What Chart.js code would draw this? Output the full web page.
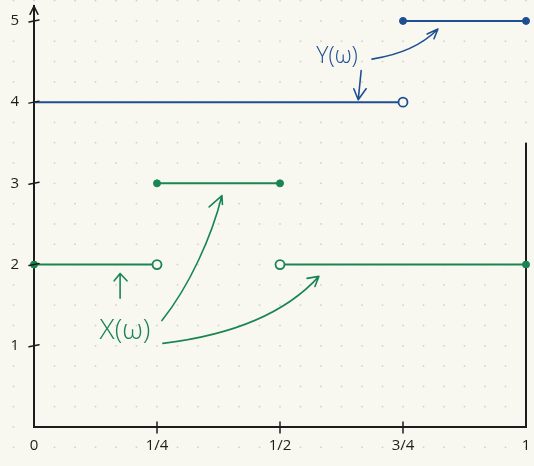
<!DOCTYPE html>
<html>
<head>
<meta charset="utf-8">
<script src="https://cdn.jsdelivr.net/npm/chart.js@4.4.0/dist/chart.umd.min.js"></script>
<style>
  html, body { margin: 0; padding: 0; background: #f9f8f0; }
  #wrap { width: 534px; height: 466px; }
</style>
</head>
<body>
<div id="wrap"><canvas id="chart" width="534" height="466"></canvas></div>
<script>
// axis ticks
const xTicks = [0, 0.25, 0.5, 0.75, 1];
const xTickLabels = ["0", "1/4", "1/2", "3/4", "1"];
const yTicks = [1, 2, 3, 4, 5];
const yTickLabels = ["1", "2", "3", "4", "5"];

// Y(ω): step pieces
const yOmegaStarts = [0, 0.75];
const yOmegaEnds = [0.75, 1];
const yOmegaValues = [4, 5];
const yOmegaStartMarks = ["none", "closed"];
const yOmegaEndMarks = ["open", "closed"];

// X(ω): step pieces
const xOmegaStarts = [0, 0.25, 0.5];
const xOmegaEnds = [0.25, 0.5, 1];
const xOmegaValues = [2, 3, 2];
const xOmegaStartMarks = ["closed", "closed", "open"];
const xOmegaEndMarks = ["open", "closed", "closed"];

// right edge line at ω = 1
const edgeX = [1, 1];
const edgeY = [0, 3.5];

const PAPER = "#f9f8f0";
const INK = "#1c1c1c";
const BLUE = "#1f4f93";
const GREEN = "#188552";

const markRadius = { none: 0, closed: 3.5, open: 4.5 };

function pieces(starts, ends, values, startMarks, endMarks, color) {
  return starts.map((s, i) => {
    const marks = [startMarks[i], endMarks[i]];
    return {
      data: [{ x: s, y: values[i] }, { x: ends[i], y: values[i] }],
      showLine: true,
      borderColor: color,
      borderWidth: 2,
      pointRadius: marks.map(m => markRadius[m]),
      pointBackgroundColor: marks.map(m => m === "open" ? PAPER : color),
      pointBorderColor: color,
      pointBorderWidth: marks.map(m => m === "open" ? 1.8 : 1),
      clip: false
    };
  });
}

const datasets = [
  ...pieces(yOmegaStarts, yOmegaEnds, yOmegaValues, yOmegaStartMarks, yOmegaEndMarks, BLUE),
  ...pieces(xOmegaStarts, xOmegaEnds, xOmegaValues, xOmegaStartMarks, xOmegaEndMarks, GREEN),
  {
    data: edgeX.map((x, i) => ({ x, y: edgeY[i] })),
    showLine: true,
    borderColor: INK,
    borderWidth: 2,
    pointRadius: 0,
    clip: false
  }
];

// paper + dot grid
const paperPlugin = {
  id: "paper",
  beforeDraw(chart) {
    const { ctx, scales: { x, y } } = chart;
    ctx.save();
    ctx.fillStyle = PAPER;
    ctx.fillRect(0, 0, chart.width, chart.height);
    ctx.fillStyle = "#d2d2cb";
    for (let i = -1; i <= 25; i++) {
      for (let j = -1; j <= 22; j++) {
        const px = x.getPixelForValue(i / 24);
        const py = y.getPixelForValue(j / 4);
        ctx.fillRect(px - 0.8, py - 0.8, 1.6, 1.6);
      }
    }
    ctx.restore();
  }
};

// crossing tick marks + arrow on y axis
const axisPlugin = {
  id: "axisMarks",
  afterDraw(chart) {
    const { ctx, scales: { x, y } } = chart;
    const x0 = x.getPixelForValue(0);
    const y0 = y.getPixelForValue(0);
    ctx.save();
    ctx.strokeStyle = INK;
    ctx.lineWidth = 1.5;
    ctx.lineCap = "round";
    ctx.beginPath();
    xTicks.slice(1, 4).forEach(v => {
      const px = x.getPixelForValue(v);
      ctx.moveTo(px, y0 - 5);
      ctx.lineTo(px, y0 + 6);
    });
    yTicks.forEach(v => {
      const py = y.getPixelForValue(v);
      ctx.moveTo(x0 - 5, py + 1);
      ctx.lineTo(x0 + 5, py - 1);
    });
    const top = chart.chartArea.top;
    ctx.moveTo(x0 - 4, top + 8);
    ctx.lineTo(x0, top);
    ctx.lineTo(x0 + 4, top + 8);
    ctx.stroke();
    ctx.restore();
  }
};

// hand annotations
const notes = [
  { color: BLUE, text: "Y(ω)", at: [0.616, 4.56], size: 23,
    curves: [
      { pts: [[0.687, 4.53], [0.774, 4.61], [0.821, 4.90]], head: [[0.799, 4.84], [0.813, 4.78]] },
      { pts: [[0.665, 4.39], [0.659, 4.03]], head: [[0.650, 4.165], [0.675, 4.165]] }
    ] },
  { color: GREEN, text: "X(ω)", at: [0.185, 1.18], size: 28,
    curves: [
      { pts: [[0.175, 1.585], [0.175, 1.89]], head: [[0.163, 1.80], [0.189, 1.80]] },
      { pts: [[0.260, 1.31], [0.317, 1.745], [0.362, 2.36], [0.382, 2.85]], head: [[0.356, 2.71], [0.383, 2.74]] },
      { pts: [[0.262, 1.03], [0.480, 1.19], [0.579, 1.855]], head: [[0.555, 1.83], [0.571, 1.73]] }
    ] }
];

const notePlugin = {
  id: "notes",
  afterDatasetsDraw(chart) {
    const { ctx, scales: { x, y } } = chart;
    const P = p => [x.getPixelForValue(p[0]), y.getPixelForValue(p[1])];
    ctx.save();
    ctx.lineCap = "round";
    ctx.lineJoin = "round";
    notes.forEach(n => {
      ctx.strokeStyle = n.color;
      ctx.fillStyle = n.color;
      ctx.lineWidth = 1.6;
      const [tx, ty] = P(n.at);
      ctx.font = "300 " + n.size + "px 'Open Sans', 'DejaVu Sans', sans-serif";
      ctx.textAlign = "center";
      ctx.textBaseline = "middle";
      ctx.fillText(n.text, tx, ty);
      n.curves.forEach(c => {
        const p = c.pts.map(P);
        ctx.beginPath();
        ctx.moveTo(p[0][0], p[0][1]);
        if (p.length === 2) ctx.lineTo(p[1][0], p[1][1]);
        if (p.length === 3) ctx.quadraticCurveTo(p[1][0], p[1][1], p[2][0], p[2][1]);
        if (p.length === 4) ctx.bezierCurveTo(p[1][0], p[1][1], p[2][0], p[2][1], p[3][0], p[3][1]);
        const tip = p[p.length - 1];
        const h = c.head.map(P);
        ctx.moveTo(h[0][0], h[0][1]);
        ctx.lineTo(tip[0], tip[1]);
        ctx.lineTo(h[1][0], h[1][1]);
        ctx.stroke();
      });
    });
    ctx.restore();
  }
};

// drop the label overhang padding Chart.js adds around the plot
const noOverhang = s => {
  s.paddingTop = 0;
  s.paddingBottom = 0;
  s.paddingLeft = 0;
  s.paddingRight = 0;
};

const tickFont = { family: "'Open Sans', 'DejaVu Sans', sans-serif", size: 15, weight: 400 };

new Chart(document.getElementById("chart").getContext("2d"), {
  type: "scatter",
  data: { datasets },
  options: {
    responsive: false,
    animation: false,
    events: [],
    layout: { padding: { top: 5, right: 8, left: 0, bottom: 0 } },
    plugins: { legend: { display: false }, tooltip: { enabled: false } },
    scales: {
      x: {
        type: "linear",
        min: 0,
        max: 1,
        afterBuildTicks: s => { s.ticks = xTicks.map(v => ({ value: v })); },
        afterFit: s => { s.height = 39; noOverhang(s); },
        grid: { drawOnChartArea: false, drawTicks: false },
        border: { display: true, color: INK, width: 2 },
        ticks: {
          padding: 10,
          color: INK,
          font: tickFont,
          maxRotation: 0,
          callback: (v, i) => xTickLabels[i]
        }
      },
      y: {
        type: "linear",
        min: 0,
        max: 5.18,
        afterBuildTicks: s => { s.ticks = yTicks.map(v => ({ value: v })); },
        afterFit: s => { s.width = 34; noOverhang(s); },
        grid: { drawOnChartArea: false, drawTicks: false },
        border: { display: true, color: INK, width: 2 },
        ticks: {
          padding: 15,
          color: INK,
          font: tickFont,
          callback: (v, i) => yTickLabels[i]
        }
      }
    }
  },
  plugins: [paperPlugin, axisPlugin, notePlugin]
});
</script>
</body>
</html>
